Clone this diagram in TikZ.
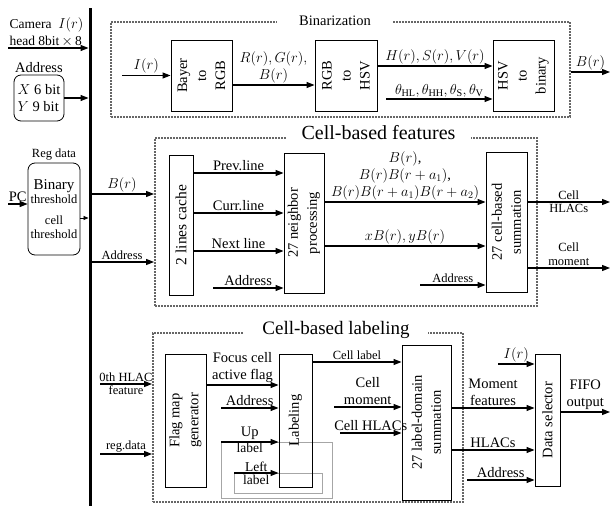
\documentclass[tikz,border=0pt]{standalone}
\usepackage{fontspec}
\setmainfont{Liberation Serif}
\usetikzlibrary{positioning, arrows.meta}

\begin{document}
\begin{tikzpicture}[
        x=1pt, y=-1pt,
        >={Triangle[length=8pt,width=6pt]},
        arrow/.style={->, line width=1.1pt},
        small_arrow/.style={-{Triangle[length=5pt,width=4pt]}, line width=0.8pt},
        block/.style={draw, line width=1pt, inner sep=0pt},
        box_text/.style={rotate=90, align=center, font=\fontsize{14.5}{19}\selectfont},
        dotted_frame/.style={draw=gray!80!black, densely dotted, line width=2pt, inner sep=0pt},
        frame_title/.style={fill=white, inner ysep=1pt, inner xsep=16pt},
        reg_box/.style={draw, rounded corners=7pt, line width=0.8pt, align=center, inner sep=1pt},
        gray_box/.style={draw=gray!70, line width=0.8pt},
        label_text/.style={font=\fontsize{14.5}{17}\selectfont, align=center, inner sep=1.5pt},
        small_text/.style={font=\fontsize{12.5}{14}\selectfont, align=center, inner sep=1.5pt},
        tight_text/.style={font=\fontsize{13.5}{14}\selectfont, inner sep=0pt}
    ]
        \useasboundingbox (0,0) rectangle (610,506);

        % data bus
        \coordinate (bus_top) at (90,8);
        \coordinate (bus_bot) at (90,506);
        \draw[line width=3pt] (bus_top) -- (bus_bot);

        % inputs on the left
        \coordinate (cam_in) at (8,48);
        \draw[arrow, shorten >=1.5pt] (cam_in) -- (cam_in -| bus_top)
            node[pos=0, anchor=south west, font=\fontsize{13.5}{17}\selectfont, align=left, inner sep=1pt] (cam_lbl) {Camera\ \ $I(r)$\\head 8bit\,$\times$\,8};

        \node[reg_box, label_text, align=left, minimum width=50pt, minimum height=46pt] (addr_box) at (39,98) {$X$ 6 bit\\$Y$ 9 bit};
        \node[label_text, above=0pt of addr_box] (addr_lbl) {Address};
        \draw[arrow, shorten >=1.5pt] (addr_box.east) -- (addr_box.east -| bus_top);

        \node[reg_box, small_text, minimum width=52pt, minimum height=92pt] (reg_box) at (54,209) {{\fontsize{15}{18}\selectfont Binary}\\threshold\\[7pt]cell\\threshold};
        \node[small_text, above=1pt of reg_box] (reg_lbl) {Reg data};
        \coordinate (pc_in) at (8,204);
        \draw[arrow] (pc_in) -- (pc_in -| reg_box.west) node[midway, above, label_text] (pc_lbl) {PC};
        \draw[small_arrow, shorten >=1.5pt] ([yshift=-9pt]reg_box.east) -- ([yshift=-9pt]reg_box.east -| bus_top);

        % Binarization
        \node[dotted_frame, minimum width=459pt, minimum height=95pt] (bin_frame) at (340.5,69.5) {};
        \node[frame_title, label_text, inner xsep=22pt] (bin_title) at (335,21) {Binarization};

        \node[block, box_text, minimum width=71pt, minimum height=61pt] (bayer) at (201.5,75.5) {Bayer\\to\\RGB};
        \node[block, box_text, minimum width=71pt, minimum height=62pt] (rgb2hsv) at (346,75.5) {RGB\\to\\HSV};
        \node[block, box_text, minimum width=71pt, minimum height=61pt] (hsv2bin) at (523.5,75.5) {HSV\\to\\binary};

        \coordinate (img_in) at (122,75.5);
        \draw[arrow] (img_in) -- (bayer.north) node[midway, above, label_text] (img_lbl) {$I(r)$};
        \draw[arrow] ([yshift=-9.5pt]bayer.south) -- ([yshift=-9.5pt]bayer.south -| rgb2hsv.north)
            node[midway, above, label_text] (rgb_lbl) {$R(r),G(r),$\\$B(r)$};
        \draw[arrow] ([yshift=9.5pt]rgb2hsv.south) -- ([yshift=9.5pt]rgb2hsv.south -| hsv2bin.north)
            node[midway, above, label_text] (hsv_lbl) {$H(r),S(r),V(r)$};
        \coordinate (thr_in) at (386,99);
        \draw[arrow] (thr_in) -- (thr_in -| hsv2bin.north)
            node[midway, above, label_text] (thr_lbl) {$\theta_{\mathrm{HL}},\theta_{\mathrm{HH}},\theta_{\mathrm{S}},\theta_{\mathrm{V}}$};
        \coordinate (bin_out) at (610,72);
        \draw[arrow] (bin_out -| bin_frame.east) -- (bin_out) node[midway, above, label_text] (bin_lbl) {$B(r)$};

        % Cell-based features
        \node[dotted_frame, minimum width=382pt, minimum height=168pt] (feat_frame) at (346,222) {};
        \node[frame_title, font=\fontsize{20}{22}\selectfont] (feat_title) at (378.5,133) {Cell-based features};

        \node[block, box_text, font=\fontsize{15.5}{19}\selectfont, minimum width=140pt, minimum height=24pt] (cache) at (181,225) {2 lines cache};
        \node[block, box_text, minimum width=140pt, minimum height=40pt] (neigh) at (304,223) {27 neighbor\\processing};
        \node[block, box_text, minimum width=140pt, minimum height=41pt] (cell_sum) at (506.5,222) {27 cell-based\\summation};

        \draw[arrow] ([yshift=28pt]feat_frame.west -| bus_top) -- ([yshift=28pt]feat_frame.west)
            node[midway, above, label_text] (br_lbl) {$B(r)$};
        \draw[arrow] ([yshift=-40pt]feat_frame.west -| bus_top) -- ([yshift=-40pt]feat_frame.west)
            node[midway, above, small_text] (fa_lbl) {Address};

        \draw[arrow] ([yshift=52pt]cache.south) -- ([yshift=52pt]cache.south -| neigh.north)
            node[midway, above, label_text] (prev_lbl) {Prev.line};
        \draw[arrow] ([yshift=12pt]cache.south) -- ([yshift=12pt]cache.south -| neigh.north)
            node[midway, above, label_text] (curr_lbl) {Curr.line};
        \draw[arrow] ([yshift=-26pt]cache.south) -- ([yshift=-26pt]cache.south -| neigh.north)
            node[midway, above, label_text] (next_lbl) {Next line};
        \coordinate (nb_addr) at (213,288);
        \draw[arrow] (nb_addr) -- (nb_addr -| neigh.north) node[midway, above, label_text] (nb_addr_lbl) {Address};

        \draw[arrow] ([yshift=21pt]neigh.south) -- ([yshift=21pt]neigh.south -| cell_sum.north)
            node[midway, above, label_text] (prod_lbl) {$B(r)$,\\$B(r)B(r+a_1)$,\\$B(r)B(r+a_1)B(r+a_2)$};
        \draw[arrow] ([yshift=-23pt]neigh.south) -- ([yshift=-23pt]neigh.south -| cell_sum.north)
            node[midway, above, label_text] (xy_lbl) {$xB(r),yB(r)$};
        \coordinate (cs_addr) at (420,285);
        \draw[arrow] (cs_addr) -- (cs_addr -| cell_sum.north) node[midway, above, small_text] (cs_addr_lbl) {Address};

        \coordinate (hlac_out) at (610,202);
        \draw[arrow] (hlac_out -| cell_sum.south) -- (hlac_out)
            node[midway, above, small_text] (hlac_lbl) {Cell} node[midway, below, small_text] (hlac_lbl2) {HLACs};
        \coordinate (mom_out) at (610,268);
        \draw[arrow] (mom_out -| cell_sum.south) -- (mom_out)
            node[midway, above, small_text] (mom_lbl) {Cell\\moment};

        % Cell-based labeling
        \node[dotted_frame, minimum width=310pt, minimum height=169pt] (lab_frame) at (308,417.5) {};
        \node[frame_title, font=\fontsize{19}{21}\selectfont, inner xsep=18pt] (lab_title) at (336,330) {Cell-based labeling};

        \draw[gray_box] (221,442) rectangle (332,498);
        \draw[gray_box] (234,473) rectangle (322,493);

        \node[block, box_text, minimum width=133pt, minimum height=41pt] (flag_map) at (185.5,420.5) {Flag map\\generator};
        \node[block, box_text, minimum width=133pt, minimum height=33pt] (labeling) at (295.5,420.5) {Labeling};
        \node[block, box_text, minimum width=155pt, minimum height=49pt] (lab_sum) at (426.5,422.5) {27 label-domain\\summation};
        \node[block, box_text, minimum width=132pt, minimum height=25pt] (data_sel) at (547.5,420) {Data selector};

        \coordinate (hlac0_in) at (100,384);
        \draw[arrow] (hlac0_in) -- (hlac0_in -| lab_frame.west)
            node[midway, above, small_text] (hlac0_lbl) {0th HLAC} node[midway, below, small_text] (hlac0_lbl2) {feature};
        \coordinate (regd_in) at (100,454);
        \draw[arrow] (regd_in) -- (regd_in -| lab_frame.west) node[midway, above, small_text] (regd_lbl) {reg.data};

        \draw[arrow] ([yshift=35.5pt]flag_map.south) -- ([yshift=35.5pt]flag_map.south -| labeling.north)
            node[midway, above, label_text] (focus_lbl) {Focus cell\\active flag};
        \coordinate (lb_addr) at (221,408);
        \draw[arrow] (lb_addr) -- (lb_addr -| labeling.north) node[midway, above, label_text] (lb_addr_lbl) {Address};
        \coordinate (up_in) at (221,442);
        \draw[arrow] (up_in) -- (up_in -| labeling.north)
            node[midway, above, label_text] (up_lbl) {Up} node[midway, below=1pt, tight_text] (up_lbl2) {label};
        \coordinate (left_in) at (234,473);
        \draw[arrow] (left_in) -- (left_in -| labeling.north)
            node[midway, above=1pt, tight_text, text height=9pt, text depth=0pt] (left_lbl) {Left}
            node[midway, below=1.5pt, tight_text] (left_lbl2) {label};

        \draw[arrow] ([yshift=58.5pt]labeling.south) -- ([yshift=58.5pt]labeling.south -| lab_sum.north)
            node[midway, above, small_text] (clab_lbl) {Cell label};
        \coordinate (cmom_in) at (334,407);
        \draw[arrow] (cmom_in) -- (cmom_in -| lab_sum.north) node[midway, above, label_text] (cmom_lbl) {Cell\\moment};
        \coordinate (chlac_in) at (340,433);
        \draw[arrow] (chlac_in) -- (chlac_in -| lab_sum.north) node[midway, above, label_text] (chlac_lbl) {Cell HLACs};

        \coordinate (ds_img) at (498,364);
        \draw[arrow] (ds_img) -- (ds_img -| data_sel.north) node[midway, above, label_text] (ds_img_lbl) {$I(r)$};
        \draw[arrow] ([yshift=14.5pt]lab_sum.south) -- ([yshift=14.5pt]lab_sum.south -| data_sel.north)
            node[midway, above, label_text] (mf_lbl) {Moment\\features};
        \draw[arrow] ([yshift=-27.5pt]lab_sum.south) -- ([yshift=-27.5pt]lab_sum.south -| data_sel.north)
            node[midway, above, label_text] (hl_lbl) {HLACs};
        \coordinate (ds_addr) at (467,480);
        \draw[arrow] (ds_addr) -- (ds_addr -| data_sel.north) node[midway, above, label_text] (ds_addr_lbl) {Address};

        \coordinate (fifo_out) at (610,412);
        \draw[arrow] (fifo_out -| data_sel.south) -- (fifo_out) node[midway, above, label_text] (fifo_lbl) {FIFO\\output};

    \end{tikzpicture}
\end{document}
